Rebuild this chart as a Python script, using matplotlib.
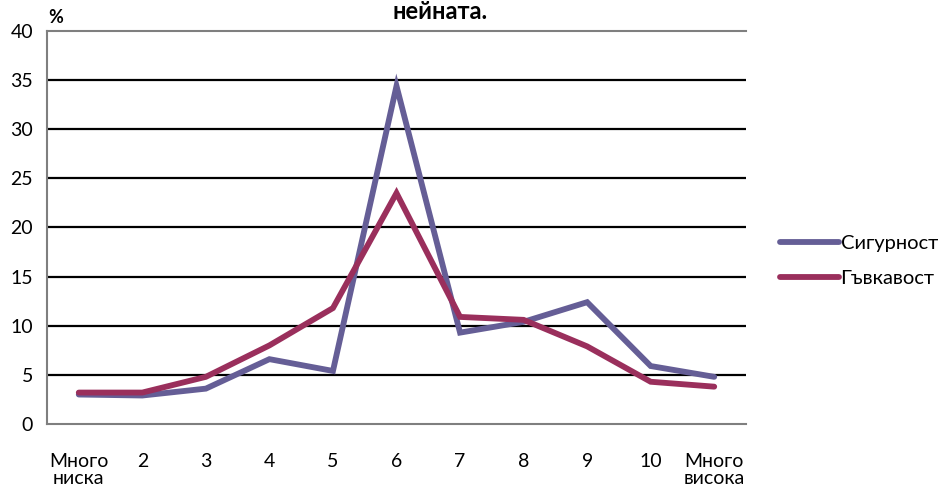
import matplotlib.pyplot as plt

categories = ['Много\nниска', '2', '3', '4', '5', '6', '7', '8', '9', '10', 'Много\nвисока']
sigurnost = [3.0, 2.9, 3.6, 6.6, 5.4, 34.4, 9.3, 10.4, 12.4, 5.9, 4.8]
gavkavost = [3.2, 3.2, 4.8, 8.0, 11.8, 23.5, 10.9, 10.6, 7.9, 4.3, 3.8]
series_names = ['Сигурност', 'Гъвкавост']
colors = ['#655E96', '#9A2F5C']

plt.rcParams['font.family'] = ['Lato', 'DejaVu Sans']

fig = plt.figure(figsize=(9.38, 4.91), dpi=100)
ax = fig.add_axes([47 / 938, 1 - 424 / 491, 699 / 938, 393 / 491])

x = list(range(len(categories)))
for vals, name, c in zip([sigurnost, gavkavost], series_names, colors):
    ax.plot(x, vals, color=c, lw=4.2, label=name, solid_capstyle='round',
            solid_joinstyle='miter')

ax.set_xlim(-0.5, len(categories) - 0.5)
ax.set_ylim(0, 40)
ax.set_yticks(range(0, 41, 5))
ax.set_xticks(x)
ax.set_xticklabels(categories, fontsize=14, linespacing=1.0)
ax.tick_params(axis='y', labelsize=14, length=0, pad=10)
ax.tick_params(axis='x', length=0, pad=21)

for v in range(5, 40, 5):
    ax.axhline(v, color='black', lw=1.6, zorder=0)

for side in ['left', 'bottom', 'top']:
    ax.spines[side].set_color('#7f7f7f')
    ax.spines[side].set_linewidth(1.5)
ax.spines['right'].set_visible(False)

ax.text(0.002, 1.012, '%', transform=ax.transAxes, fontsize=13,
        fontweight='bold', ha='left', va='bottom')
fig.text(440 / 938, 1.0, 'нейната.', fontsize=17, fontweight='bold',
         ha='center', va='top')

leg = fig.legend(loc='upper left', bbox_to_anchor=(762 / 938, 1 - 217 / 491),
                 frameon=False, fontsize=14.5, handlelength=2.9,
                 handletextpad=0.1, labelspacing=0.9)

fig.savefig('out.png', dpi=100)
